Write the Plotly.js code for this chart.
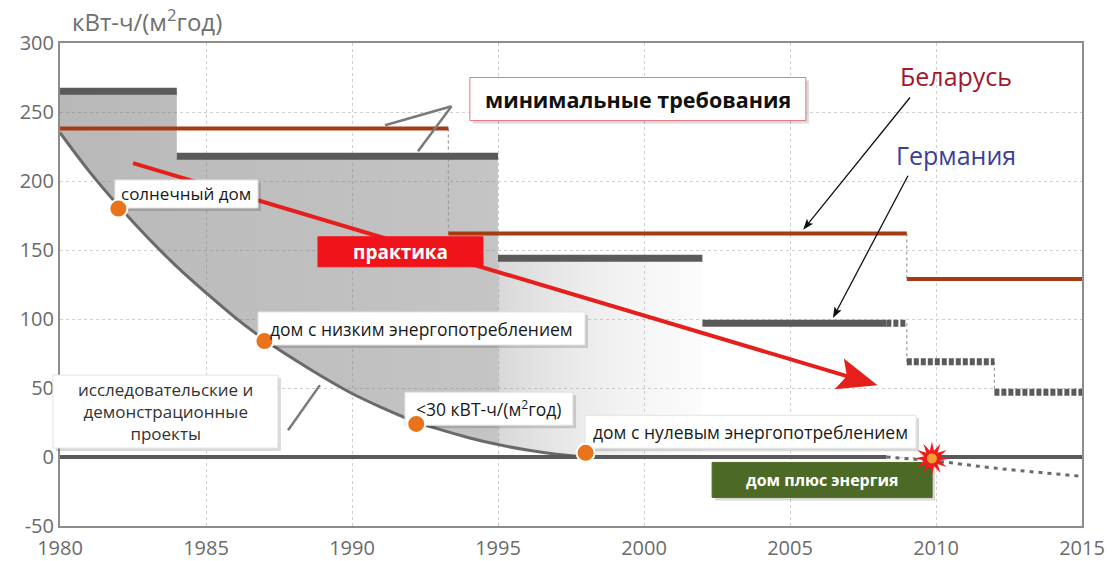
<!DOCTYPE html>
<html>
<head>
<meta charset="utf-8">
<script src="https://cdn.plot.ly/plotly-3.0.1.min.js"></script>
<style>html,body{margin:0;padding:0;background:#fff}#chart{width:1112px;height:561px}</style>
</head>
<body>
<div id="chart"></div>
<script>
// ---- data ----
const xTicks = [1980, 1985, 1990, 1995, 2000, 2005, 2010, 2015];
const yTicks = [-50, 0, 50, 100, 150, 200, 250, 300];

// Germany requirements (solid steps, then planned steps)
const deStart = [1980, 1984, 1995, 2002];
const deEnd   = [1984, 1995, 2002, 2008.3];
const deValue = [265, 218, 144, 97];
const deFutStart = [2008.3, 2009, 2012];
const deFutEnd   = [2009, 2012, 2015];
const deFutValue = [97, 69, 47];

// Belarus requirements
const byStart = [1980, 1993.3, 2009];
const byEnd   = [1993.3, 2009, 2015];
const byValue = [238, 162, 129];

// research & demonstration projects curve
const curveYears  = [1980,1981,1982,1983,1984,1985,1986,1987,1988,1989,1990,1991,1992,1993,1994,1995,1996,1997,1998];
const curveValues = [235, 207, 182, 159, 138, 119, 101, 85, 71, 58, 46, 36, 27, 20, 14, 9, 5, 2, 0];

// zero line and plus-energy trend
const zeroYears = [1980, 2008.3];
const zeroYears2 = [2010, 2015];
const plusYears  = [2008.3, 2010, 2012, 2015];
const plusValues = [0, -3, -8, -14];

// milestones (orange dots)
const msX = [1982, 1987, 1992.2, 1998];
const msY = [180, 84, 24, 3];
const msLabels = ['солнечный дом', 'дом с низким энергопотреблением', '&lt;30 кВТ-ч/(м<sup>2</sup>год)', 'дом с нулевым энергопотреблением'];

// practice trend arrow
const practiceFrom = [1982.5, 213];
const practiceTo   = [2008.0, 52];

// break-even point (plus energy)
const breakEven = [2009.86, -1];

// ---- layout constants ----
const W = 1112, H = 561, M = {l: 60, r: 30, t: 43, b: 35};
const xRange = [1980, 2015], yRange = [-50, 300];
const kx = (W - M.l - M.r) / (xRange[1] - xRange[0]);
const ky = (H - M.t - M.b) / (yRange[1] - yRange[0]);

// ---- helpers building traces from the arrays ----
function segs(starts, ends, vals) {
  const x = [], y = [];
  for (let i = 0; i < starts.length; i++) { x.push(starts[i], ends[i], null); y.push(vals[i], vals[i], null); }
  return {x, y};
}
function steps(starts, vals) {
  const x = [], y = [];
  for (let i = 1; i < starts.length; i++) { x.push(starts[i], starts[i], null); y.push(vals[i-1], vals[i], null); }
  return {x, y};
}

// shaded polygon: Germany steps until 2002 on top, curve below
const polyX = [], polyY = [];
for (let i = 0; i < 3; i++) { polyX.push(deStart[i], deEnd[i]); polyY.push(deValue[i], deValue[i]); }
polyX.push(deEnd[2]); polyY.push(0);
for (let i = curveYears.length - 1; i >= 0; i--) { polyX.push(curveYears[i]); polyY.push(curveValues[i]); }

const de = segs(deStart, deEnd, deValue);
const deF = segs(deFutStart, deFutEnd, deFutValue);
const by = segs(byStart, byEnd, byValue);
const byC = steps(byStart, byValue);
const deC = steps(deFutStart, deFutValue);

const traces = [
  {x: polyX, y: polyY, mode: 'lines', fill: 'toself', line: {width: 0},
   fillcolor: 'rgba(120,120,120,0.45)',
   fillgradient: {type: 'horizontal', start: 1980, stop: 2002,
     colorscale: [[0, 'rgba(105,105,105,0.47)'], [0.68, 'rgba(115,115,115,0.42)'], [0.685, 'rgba(140,140,140,0.33)'], [1, 'rgba(220,220,220,0.1)']]},
   hoverinfo: 'skip'},
  {x: curveYears, y: curveValues, mode: 'lines', line: {color: '#6a6a6a', width: 3, shape: 'spline'}},
  {x: byC.x, y: byC.y, mode: 'lines', line: {color: '#9a9a9a', width: 1.2, dash: 'dot'}},
  {x: deC.x, y: deC.y, mode: 'lines', line: {color: '#9a9a9a', width: 1.2, dash: 'dot'}},
  {x: zeroYears, y: [0, 0], mode: 'lines', line: {color: '#595959', width: 4}},
  {x: zeroYears2, y: [0, 0], mode: 'lines', line: {color: '#595959', width: 4}},
  {x: plusYears, y: plusValues, mode: 'lines', line: {color: '#6a6a6a', width: 3, dash: '4px,5px', shape: 'spline'}},
  {x: de.x, y: de.y, mode: 'lines', line: {color: '#5a5a5a', width: 7}},
  {x: deF.x, y: deF.y, mode: 'lines', line: {color: '#5a5a5a', width: 7, dash: '5px,2px'}},
  {x: by.x, y: by.y, mode: 'lines', line: {color: '#a63a12', width: 4}}
];

const FAM = 'Open Sans, sans-serif';
const boxFont = {family: FAM, size: 17.5, color: '#1a1a1a'};
const ann = [];
const RED = '#e5201c';
const lerp = (a, b, t) => a + (b - a) * t;

// callout lines for "минимальные требования" and research projects
const shapes = [
  {type: 'line', xref: 'x', yref: 'y', x0: 1993.41, y0: 254.2, x1: 1991.13, y1: 240.4, line: {color: '#7a7a7a', width: 2.5}, layer: 'above'},
  {type: 'line', xref: 'x', yref: 'y', x0: 1993.41, y0: 254.2, x1: 1992.26, y1: 221.5, line: {color: '#7a7a7a', width: 2.5}, layer: 'above'},
  {type: 'line', xref: 'x', yref: 'y', x0: 1987.81, y0: 19.4, x1: 1988.9, y1: 52.1, line: {color: '#7a7a7a', width: 2.5}, layer: 'above'}
];

// arrow = line shape + triangular head (pixel-sized path anchored at tip)
function arrow(from, to, color, width, headLen, headW, shaftEnd) {
  shapes.push({type: 'line', xref: 'x', yref: 'y', x0: from[0], y0: from[1],
    x1: lerp(from[0], to[0], shaftEnd), y1: lerp(from[1], to[1], shaftEnd),
    line: {color: color, width: width}, layer: 'above'});
  const ux = (to[0] - from[0]) * kx, uy = (to[1] - from[1]) * ky;
  const len = Math.hypot(ux, uy), dx = ux / len, dy = uy / len;
  const nx = -dy, ny = dx;
  const bx = -headLen * dx, by2 = -headLen * dy;
  const p = 'M0,0 L' + (bx + nx * headW / 2).toFixed(2) + ',' + (by2 + ny * headW / 2).toFixed(2) +
            ' L' + (bx * 0.8).toFixed(2) + ',' + (by2 * 0.8).toFixed(2) +
            ' L' + (bx - nx * headW / 2).toFixed(2) + ',' + (by2 - ny * headW / 2).toFixed(2) + ' Z';
  shapes.push({type: 'path', xref: 'x', yref: 'y', xsizemode: 'pixel', ysizemode: 'pixel',
    xanchor: to[0], yanchor: to[1], path: p, fillcolor: color, line: {width: 0}, layer: 'above'});
}

// practice arrow (below the boxes)
arrow(practiceFrom, practiceTo, RED, 4, 40, 32, 0.96);

function box(x, y, w, h, text, opts) {
  opts = opts || {};
  const xref = opts.paperX ? 'paper' : 'x';
  const xa = opts.paperX ? (x - xRange[0]) / (xRange[1] - xRange[0]) : x;
  if (!opts.noShadow) {
    shapes.push({type: 'rect', xref: xref, yref: 'y', xsizemode: 'pixel', ysizemode: 'pixel',
      xanchor: xa, yanchor: y, x0: -w / 2 + 3, x1: w / 2 + 3, y0: -h / 2 - 3, y1: h / 2 - 3,
      fillcolor: 'rgba(0,0,0,0.15)', line: {width: 0}, layer: 'above'});
  }
  shapes.push({type: 'rect', xref: xref, yref: 'y', xsizemode: 'pixel', ysizemode: 'pixel',
    xanchor: xa, yanchor: y, x0: -w / 2, x1: w / 2, y0: -h / 2, y1: h / 2,
    fillcolor: opts.bg || '#ffffff', line: {width: 1, color: opts.border || '#e2e2e2'}, layer: 'above'});
  ann.push({x, y, xref: 'x', yref: 'y', showarrow: false, text: text,
    font: opts.font || boxFont, align: 'center'});
}

box(1984.33, 190.6, 143, 28, msLabels[0], {font: {family: FAM, size: 17, color: '#1a1a1a'}});
box(1992.38, 93.1, 327, 33, msLabels[1]);
box(1994.69, 35.0, 168, 33, msLabels[2]);
box(2003.65, 18.3, 331, 33, msLabels[3]);
box(1983.61, 32.9, 225, 73, 'исследовательские и<br>демонстрационные<br>проекты', {font: {family: FAM, size: 17, color: '#333'}, paperX: true});
box(1999.79, 259.4, 336, 43, '<b>минимальные требования</b>', {font: {family: FAM, size: 21.5, color: '#111'}, border: '#e07a80'});
box(1991.66, 148.7, 165, 30, '<b>практика</b>', {font: {family: FAM, size: 19, color: '#ffffff'}, bg: '#f0141a', border: '#f0141a', noShadow: true});
box(2006.1, -16.6, 220, 35, '<b>дом плюс энергия</b>', {font: {family: FAM, size: 16, color: '#ffffff'}, bg: '#4c6a26', border: '#4c6a26'});

// orange dots (on top of the boxes)
for (let i = 0; i < msX.length; i++) {
  shapes.push({type: 'circle', xref: 'x', yref: 'y', xsizemode: 'pixel', ysizemode: 'pixel',
    xanchor: msX[i], yanchor: msY[i], x0: -9, x1: 9, y0: -9, y1: 9,
    fillcolor: '#e8731a', line: {color: '#ffffff', width: 2}, layer: 'above'});
}
// explosion burst at break-even (12-point star outline)
let starPath = '';
for (let k = 0; k < 24; k++) {
  const r = (k % 2 === 0) ? 17 : 8;
  const a = Math.PI * k / 12 - Math.PI / 2;
  starPath += (k === 0 ? 'M' : 'L') + (r * Math.cos(a)).toFixed(2) + ',' + (r * Math.sin(a)).toFixed(2);
}
starPath += 'Z';
shapes.push({type: 'path', xref: 'x', yref: 'y', xsizemode: 'pixel', ysizemode: 'pixel',
  xanchor: breakEven[0], yanchor: breakEven[1], path: starPath,
  fillcolor: '#ee1c1c', line: {width: 0}, layer: 'above'});
shapes.push({type: 'circle', xref: 'x', yref: 'y', xsizemode: 'pixel', ysizemode: 'pixel',
  xanchor: breakEven[0], yanchor: breakEven[1], x0: -5, x1: 5, y0: -5, y1: 5,
  fillcolor: '#f4a030', line: {width: 0}, layer: 'above'});

// country labels and arrows
arrow([2009.11, 260.5], [2005.45, 164.6], '#111111', 1.3, 11, 8, 0.97);
arrow([2009.04, 203.8], [2006.47, 100.7], '#111111', 1.3, 11, 8, 0.97);
ann.push({x: 2010.68, y: 276, xref: 'x', yref: 'y', showarrow: false, text: 'Беларусь',
  font: {family: FAM, size: 25, color: '#a0192c'}});
ann.push({x: 2010.7, y: 219, xref: 'x', yref: 'y', showarrow: false, text: 'Германия',
  font: {family: FAM, size: 25, color: '#3c3e98'}});

// unit label
ann.push({x: 0.01, y: 1.047, xref: 'paper', yref: 'paper', xanchor: 'left', yanchor: 'middle', showarrow: false,
  text: 'кВт-ч/(м<sup>2</sup>год)', font: {family: FAM, size: 24, color: '#707070'}});

const layout = {
  width: W, height: H,
  margin: M,
  paper_bgcolor: '#ffffff', plot_bgcolor: '#ffffff',
  showlegend: false,
  xaxis: {range: xRange, tickvals: xTicks, ticktext: xTicks.map(String),
    tickfont: {family: FAM, size: 20, color: '#6b6b6b'}, ticklabelstandoff: 3,
    showgrid: true, gridcolor: '#cfcfcf', griddash: 'dot', gridwidth: 1,
    showline: true, mirror: true, linecolor: '#8c8c8c', linewidth: 2, zeroline: false, ticks: '', fixedrange: true},
  yaxis: {range: yRange, tickvals: yTicks, ticktext: yTicks.map(String),
    tickfont: {family: FAM, size: 20, color: '#6b6b6b'},
    showgrid: true, gridcolor: '#cfcfcf', griddash: 'dot', gridwidth: 1,
    showline: true, mirror: true, linecolor: '#8c8c8c', linewidth: 2, zeroline: false, ticks: '', fixedrange: true},
  annotations: ann,
  shapes: shapes
};

Plotly.newPlot('chart', traces, layout, {displayModeBar: false, staticPlot: true});
</script>
</body>
</html>
